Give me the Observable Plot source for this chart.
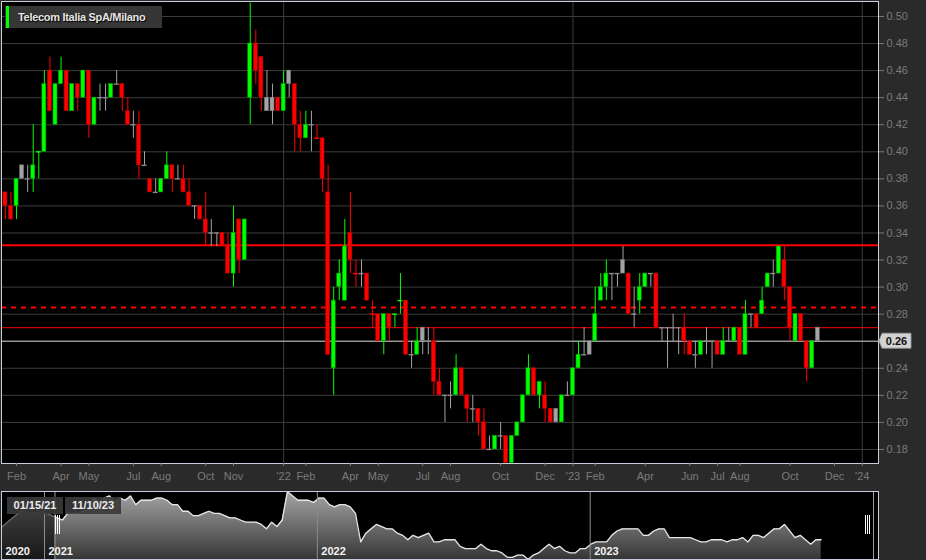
<!DOCTYPE html>
<html>
<head>
<meta charset="utf-8">
<script src="https://cdn.jsdelivr.net/npm/d3@7"></script>
<script src="https://cdn.jsdelivr.net/npm/@observablehq/plot@0.6"></script>
<style>
  html, body { margin: 0; padding: 0; background: #2a2a2a; }
  #wrap { position: relative; width: 926px; height: 560px; overflow: hidden; font-family: "Liberation Sans", Arial, sans-serif; }
  #wrap svg { display: block; position: absolute; left: 0; }
  .title { position: absolute; left: 5px; top: 6px; width: 157px; height: 22px; background: #363636; }
  .title .bar { position: absolute; left: 1px; top: 0; width: 3px; height: 22px; background: #00ff00; }
  .title .txt { position: absolute; left: 13px; top: 0; line-height: 22px; font-size: 11px; font-weight: bold; color: #e4e4e4; letter-spacing: -0.3px; text-shadow: 1px 1px 1px #000; white-space: nowrap; }
  .navlbl { position: absolute; top: 497px; height: 17px; width: 56px; background: rgba(58,58,58,0.92); color: #ececec; font-size: 11px; font-weight: bold; line-height: 17px; text-align: center; }
</style>
</head>
<body>
<div id="wrap"></div>
<script>
// ---------------- data ----------------
const titleText = "Telecom Italia SpA/Milano";
const firstWeek = "2021-01-11"; // weekly candles, one per week from here

const opens = [0.39,0.37,0.36,0.36,0.39,0.38,0.38,0.40,0.40,0.46,
  0.42,0.45,0.46,0.43,0.45,0.44,0.46,0.42,0.44,0.44,
  0.44,0.45,0.45,0.43,0.42,0.42,0.39,0.38,0.37,0.37,
  0.38,0.39,0.38,0.38,0.37,0.36,0.36,0.35,0.34,0.34,
  0.34,0.33,0.31,0.35,0.32,0.44,0.48,0.47,0.43,0.43,
  0.44,0.43,0.46,0.45,0.42,0.41,0.42,0.41,0.41,0.37,
  0.24,0.30,0.29,0.34,0.31,0.31,0.31,0.28,0.28,0.26,
  0.28,0.28,0.29,0.29,0.25,0.25,0.27,0.26,0.26,0.23,
  0.22,0.22,0.22,0.24,0.22,0.21,0.21,0.20,0.18,0.18,
  0.19,0.19,0.17,0.19,0.20,0.22,0.24,0.22,0.22,0.21,
  0.21,0.20,0.22,0.22,0.24,0.25,0.26,0.26,0.29,0.30,
  0.31,0.31,0.32,0.31,0.28,0.29,0.30,0.31,0.31,0.27,
  0.27,0.27,0.27,0.27,0.26,0.25,0.25,0.26,0.26,0.26,
  0.25,0.26,0.26,0.27,0.25,0.28,0.28,0.28,0.30,0.31,
  0.31,0.32,0.30,0.26,0.28,0.26,0.24,0.27];
const highs = [0.39,0.37,0.37,0.38,0.39,0.39,0.42,0.40,0.46,0.47,
  0.45,0.47,0.46,0.45,0.45,0.46,0.46,0.44,0.45,0.45,
  0.45,0.46,0.45,0.44,0.43,0.43,0.40,0.38,0.38,0.38,
  0.40,0.39,0.39,0.39,0.38,0.36,0.36,0.37,0.35,0.34,
  0.34,0.34,0.36,0.35,0.35,0.51,0.49,0.47,0.46,0.45,
  0.44,0.46,0.46,0.45,0.43,0.43,0.43,0.42,0.41,0.39,
  0.30,0.32,0.35,0.37,0.32,0.32,0.31,0.29,0.28,0.28,
  0.28,0.28,0.31,0.29,0.26,0.27,0.27,0.27,0.27,0.24,
  0.22,0.23,0.25,0.24,0.22,0.22,0.21,0.21,0.19,0.19,
  0.20,0.19,0.19,0.20,0.22,0.25,0.24,0.23,0.23,0.21,
  0.21,0.22,0.23,0.24,0.26,0.27,0.26,0.30,0.31,0.32,
  0.31,0.31,0.33,0.31,0.30,0.31,0.31,0.31,0.31,0.27,
  0.27,0.28,0.27,0.28,0.26,0.26,0.26,0.27,0.26,0.26,
  0.27,0.27,0.27,0.27,0.29,0.28,0.28,0.30,0.31,0.32,
  0.33,0.33,0.30,0.28,0.28,0.26,0.26,0.27];
const lows = [0.37,0.35,0.35,0.35,0.38,0.37,0.37,0.38,0.40,0.43,
  0.42,0.45,0.43,0.43,0.43,0.44,0.41,0.42,0.43,0.43,
  0.44,0.45,0.43,0.42,0.41,0.38,0.39,0.37,0.37,0.37,
  0.38,0.37,0.38,0.37,0.36,0.35,0.35,0.33,0.33,0.33,
  0.33,0.31,0.30,0.31,0.32,0.42,0.45,0.43,0.43,0.42,
  0.43,0.43,0.44,0.40,0.40,0.41,0.40,0.41,0.37,0.25,
  0.22,0.29,0.29,0.31,0.30,0.30,0.29,0.27,0.26,0.25,
  0.26,0.27,0.28,0.25,0.24,0.25,0.25,0.25,0.22,0.22,
  0.20,0.21,0.22,0.22,0.20,0.20,0.19,0.18,0.18,0.18,
  0.18,0.17,0.17,0.19,0.20,0.22,0.22,0.21,0.20,0.20,
  0.20,0.20,0.22,0.22,0.24,0.25,0.25,0.26,0.29,0.29,
  0.29,0.30,0.31,0.28,0.27,0.28,0.30,0.30,0.27,0.26,
  0.24,0.26,0.25,0.25,0.25,0.24,0.25,0.25,0.24,0.25,
  0.25,0.26,0.26,0.25,0.25,0.27,0.27,0.28,0.30,0.30,
  0.31,0.29,0.26,0.26,0.26,0.23,0.24,0.26];
const closes = [0.37,0.36,0.35,0.38,0.38,0.38,0.39,0.40,0.45,0.43,
  0.45,0.46,0.43,0.45,0.44,0.46,0.42,0.44,0.44,0.44,
  0.45,0.45,0.44,0.42,0.42,0.39,0.39,0.37,0.37,0.38,
  0.39,0.38,0.38,0.37,0.36,0.36,0.35,0.34,0.34,0.34,
  0.33,0.31,0.34,0.32,0.35,0.48,0.46,0.44,0.44,0.44,
  0.43,0.45,0.45,0.42,0.41,0.42,0.42,0.41,0.38,0.25,
  0.29,0.31,0.33,0.32,0.31,0.31,0.29,0.28,0.26,0.28,
  0.27,0.28,0.29,0.25,0.25,0.26,0.26,0.26,0.23,0.22,
  0.22,0.22,0.24,0.22,0.21,0.21,0.20,0.18,0.18,0.19,
  0.19,0.17,0.19,0.20,0.22,0.24,0.22,0.23,0.21,0.20,
  0.20,0.22,0.22,0.24,0.25,0.25,0.25,0.28,0.30,0.31,
  0.31,0.31,0.31,0.28,0.28,0.30,0.31,0.31,0.27,0.27,
  0.27,0.27,0.27,0.26,0.25,0.25,0.26,0.26,0.26,0.25,
  0.26,0.26,0.27,0.25,0.28,0.28,0.27,0.29,0.31,0.31,
  0.33,0.30,0.27,0.28,0.26,0.24,0.26,0.26];

// price axis ticks
const priceTicks = [0.18,0.20,0.22,0.24,0.26,0.28,0.30,0.32,0.34,0.36,0.38,0.40,0.42,0.44,0.46,0.48,0.50];
// time axis ticks (first weekly bar of each month)
const tickDates = ["2021-02-01","2021-03-29","2021-05-03","2021-06-28","2021-08-02","2021-09-27","2021-11-01",
  "2022-01-03","2022-01-31","2022-03-28","2022-05-02","2022-06-27","2022-08-01","2022-10-03","2022-11-28",
  "2023-01-02","2023-01-30","2023-04-03","2023-05-29","2023-07-03","2023-07-31","2023-10-02","2023-11-27","2024-01-01"];
const tickLabels = ["Feb","Apr","May","Jul","Aug","Oct","Nov",
  "'22","Feb","Apr","May","Jul","Aug","Oct","Dec",
  "'23","Feb","Apr","Jun","Jul","Aug","Oct","Dec","'24"];
const yearTickDates = ["2022-01-03","2023-01-02","2024-01-01"];

// horizontal levels
const solidLevels = [0.331];
const dashedLevels = [0.285];
const thinLevels = [0.27];

// navigator
const navPreDates = ["2020-11-02","2020-11-09","2020-11-16","2020-11-23","2020-11-30","2020-12-07","2020-12-14","2020-12-21","2020-12-28","2021-01-04"];
const navPreCloses = [0.31,0.33,0.35,0.37,0.39,0.39,0.38,0.38,0.39,0.38];
const yearStarts = ["2021-01-01","2022-01-01","2023-01-01"];
const yearLabels = ["2020","2021","2022","2023"];
const selectionDates = ["2021-01-15","2023-11-10"];
const selectionLabels = ["01/15/21","11/10/23"];

// ---------------- build ----------------
const DAY = 864e5;
const start = new Date(firstWeek);
const candles = opens.map((o, i) => {
  const c = closes[i];
  const prev = i ? closes[i - 1] : o;
  const dir = c > prev ? "up" : c < prev ? "down" : "flat";
  return {date: d3.utcDay.offset(start, 7 * i), open: o, high: highs[i], low: lows[i], close: c, dir};
});
const fillC = {up: "#00ff00", down: "#ff0000", flat: "#a4a4a4"};
const strokeC = {up: "#00a000", down: "#b00000", flat: "#707070"};
const wickC = {up: "#00ff00", down: "#ff0000", flat: "#a4a4a4"};
const halfBody = 2.5 * DAY, halfDoji = 3.1 * DAY;
const bodies = candles.filter(d => d.open !== d.close);
const dojis = candles.filter(d => d.open === d.close);
const lastClose = closes[closes.length - 1];
const labelMap = new Map(tickDates.map((d, i) => [+new Date(d), tickLabels[i]]));

const font = "'Liberation Sans', Arial, sans-serif";

const main = Plot.plot({
  width: 926, height: 490,
  marginLeft: 1, marginRight: 48, marginTop: 1, marginBottom: 27,
  style: {background: "transparent", fontFamily: font, fontSize: "11px", color: "#7a7a7a"},
  x: {type: "utc", domain: [new Date("2021-01-13T01:55Z"), new Date("2024-01-21T09:36Z")]},
  y: {domain: [0.16962, 0.51109]},
  color: {type: "identity"},
  marks: [
    Plot.frame({fill: "#000"}),
    Plot.gridY(priceTicks, {stroke: "#3c3c3c", strokeOpacity: 1}),
    Plot.ruleX(yearTickDates.map(d => new Date(d)), {stroke: "#3c3c3c", strokeOpacity: 1}),
    Plot.ruleY(solidLevels, {stroke: "#ff0000", strokeWidth: 2}),
    Plot.ruleY(dashedLevels, {stroke: "#ff0000", strokeWidth: 2, strokeDasharray: "5,5"}),
    Plot.ruleY(thinLevels, {stroke: "#ff0000", strokeWidth: 1}),
    Plot.ruleY([lastClose], {stroke: "#c8c8c8", strokeWidth: 1}),
    Plot.ruleX(candles, {x: "date", y1: "low", y2: "high", stroke: d => wickC[d.dir], strokeWidth: 1, clip: true}),
    Plot.rect(bodies, {
      x1: d => new Date(+d.date - halfBody), x2: d => new Date(+d.date + halfBody),
      y1: d => Math.min(d.open, d.close), y2: d => Math.max(d.open, d.close),
      fill: d => fillC[d.dir], stroke: d => strokeC[d.dir], strokeWidth: 0.6, clip: true
    }),
    Plot.ruleY(dojis, {
      y: "open", x1: d => new Date(+d.date - halfDoji), x2: d => new Date(+d.date + halfDoji),
      stroke: d => d.dir === "flat" ? "#8a8a8a" : wickC[d.dir], strokeWidth: 1.4, clip: true
    }),
    Plot.frame({stroke: "#c6cddb"}),
    Plot.axisY(priceTicks, {anchor: "right", tickSize: 5, tickPadding: 3, tickFormat: d => d.toFixed(2), color: "#7a7a7a", fontSize: 11}),
    Plot.axisX(tickDates.map(d => new Date(d)), {anchor: "bottom", tickSize: 3, tickPadding: 6, tickFormat: d => labelMap.get(+d), color: "#7a7a7a", fontSize: 11})
  ]
});

// last price tag on the right axis
{
  const ys = main.scale("y"), xs = main.scale("x");
  const yy = ys.apply(lastClose);
  const xr = xs.range[1];
  const g = d3.select(main).append("g");
  g.append("path")
    .attr("d", `M${xr + 1},${yy} L${xr + 4},${yy - 7.5} L${xr + 33},${yy - 7.5} L${xr + 33},${yy + 7.5} L${xr + 4},${yy + 7.5} Z`)
    .attr("fill", "#d2d2d2").attr("stroke", "#9a9a9a").attr("stroke-width", 0.8);
  g.append("text").attr("x", xr + 18.5).attr("y", yy).attr("dy", "0.35em")
    .attr("text-anchor", "middle").attr("font-size", 11).attr("font-weight", "bold")
    .attr("fill", "#111").attr("font-family", font).text(lastClose.toFixed(2));
}

// navigator
const navData = navPreDates.map((d, i) => ({date: new Date(d), close: navPreCloses[i]}))
  .concat(candles.map(d => ({date: d.date, close: d.close})));
const navStart = new Date("2020-11-04T11:17Z"), navEnd = new Date("2024-01-21T16:48Z");
const selStart = new Date(selectionDates[0]);
const yearLabelData = yearLabels.map((l, i) => ({label: l, date: i === 0 ? navStart : new Date(yearStarts[i - 1])}));

const gradientDefs = () => {
  const defs = document.createElementNS("http://www.w3.org/2000/svg", "defs");
  defs.innerHTML = `<linearGradient id="navgrad" x1="0" y1="0" x2="0" y2="1">
    <stop offset="0" stop-color="#a6a6a6"/><stop offset="1" stop-color="#363636"/></linearGradient>`;
  return defs;
};
const handle = (x, dx) => Plot.ruleX([x], {dx, insetTop: 24, insetBottom: 25, stroke: "#ffffff", strokeWidth: 1, shapeRendering: "crispEdges"});

const nav = Plot.plot({
  width: 926, height: 70,
  marginLeft: 1, marginRight: 48, marginTop: 1, marginBottom: 1,
  style: {background: "transparent", fontFamily: font},
  x: {type: "utc", domain: [navStart, navEnd], axis: null},
  y: {domain: [0.17, 0.48], axis: null},
  marks: [
    Plot.frame({fill: "#000"}),
    gradientDefs,
    Plot.areaY(navData, {x: "date", y1: 0.17, y2: "close", fill: "url(#navgrad)", clip: true}),
    Plot.lineY(navData, {x: "date", y: "close", stroke: "#e6e6e6", strokeWidth: 1.3, clip: true}),
    Plot.rect([{a: navStart, b: selStart}], {x1: "a", x2: "b", fill: "#000", fillOpacity: 0.55}),
    Plot.ruleX(yearStarts.map(d => new Date(d)), {stroke: "#8c8c8c"}),
    Plot.ruleX([selStart], {stroke: "#9a9a9a"}),
    Plot.ruleX([navEnd], {dx: -5, stroke: "#9a9a9a"}),
    handle(selStart, 1), handle(selStart, 3), handle(selStart, 5),
    handle(navEnd, -13.5), handle(navEnd, -11.5), handle(navEnd, -9.5),
    Plot.text(yearLabelData, {x: "date", text: "label", frameAnchor: "bottom", textAnchor: "start", lineAnchor: "bottom",
      dx: 4, dy: -5, fill: "#f2f2f2", fontWeight: "bold", fontSize: 11}),
    Plot.frame({stroke: "#c6cddb"})
  ]
});

const wrap = document.getElementById("wrap");
main.style.top = "0px";
nav.style.top = "490px";
wrap.appendChild(main);
wrap.appendChild(nav);

const title = document.createElement("div");
title.className = "title";
title.innerHTML = `<div class="bar"></div><div class="txt"></div>`;
title.querySelector(".txt").textContent = titleText;
wrap.appendChild(title);

selectionLabels.forEach((t, i) => {
  const el = document.createElement("div");
  el.className = "navlbl";
  el.style.left = (7 + i * 58) + "px";
  el.textContent = t;
  wrap.appendChild(el);
});
</script>
</body>
</html>
